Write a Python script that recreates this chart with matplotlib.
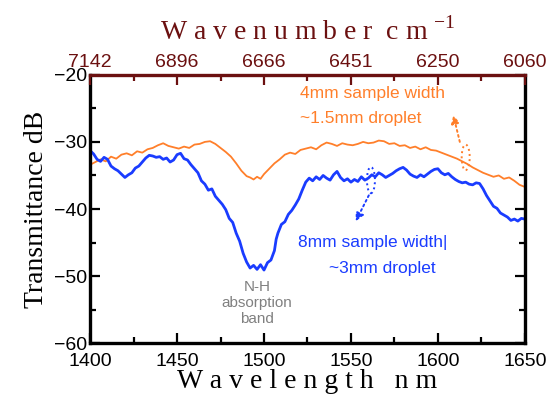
import matplotlib
matplotlib.use('Agg')
import matplotlib.pyplot as plt
from matplotlib.patches import Ellipse
from matplotlib.ticker import MultipleLocator

# data
wl_orange = [1400, 1403, 1406, 1409, 1412, 1415, 1418, 1421, 1424, 1427, 1430, 1433, 1436, 1439,
             1442, 1445, 1448, 1451, 1454, 1457, 1460, 1463, 1466, 1469, 1472, 1475, 1478, 1481,
             1484, 1487, 1490, 1492, 1494, 1496, 1498, 1500, 1503, 1506, 1509, 1512, 1515, 1518,
             1521, 1524, 1527, 1530, 1533, 1536, 1539, 1542, 1545, 1548, 1551, 1554, 1557, 1560,
             1563, 1566, 1569, 1572, 1575, 1578, 1581, 1584, 1587, 1590, 1593, 1596, 1599, 1602,
             1605, 1608, 1611, 1614, 1617, 1620, 1623, 1626, 1629, 1632, 1635, 1638, 1641, 1644,
             1647, 1650]
db_orange = [-33.4, -33.0, -32.6, -32.9, -32.2, -32.5, -31.9, -31.7, -32.0, -31.4, -31.6, -31.1, -30.9, -30.5,
             -30.2, -30.6, -30.8, -31.0, -30.7, -30.9, -30.4, -30.3, -30.0, -29.9, -30.3, -30.9, -31.5, -32.2,
             -33.2, -34.3, -35.1, -35.3, -35.6, -35.2, -35.5, -34.8, -34.0, -33.2, -32.6, -31.9, -31.6, -31.8,
             -31.2, -31.0, -30.8, -31.1, -30.5, -30.1, -30.3, -30.6, -30.2, -30.4, -30.5, -30.3, -30.0, -30.2,
             -30.1, -29.8, -29.9, -30.3, -30.2, -30.6, -30.5, -30.9, -30.7, -31.1, -30.8, -31.2, -31.3, -31.6,
             -31.9, -32.2, -32.5, -32.9, -33.3, -33.8, -34.2, -34.6, -34.9, -35.2, -35.0, -35.5, -35.3, -35.8,
             -36.4, -36.7]

wl_blue = [1400, 1402, 1404, 1406, 1408, 1410, 1412, 1414, 1416, 1418, 1420, 1422, 1424, 1426, 1428,
           1430, 1432, 1434, 1436, 1438, 1440, 1442, 1444, 1446, 1448, 1450, 1452, 1454, 1456, 1458,
           1460, 1462, 1464, 1466, 1468, 1470, 1472, 1474, 1476, 1478, 1480, 1482, 1484, 1486, 1488,
           1490, 1492, 1494, 1496, 1498, 1500, 1502, 1504, 1506, 1507, 1508, 1510, 1512, 1514, 1516,
           1518, 1520, 1522, 1524, 1526, 1528, 1530, 1532, 1534, 1536, 1538, 1540, 1542, 1544, 1546,
           1548, 1550, 1552, 1554, 1556, 1558, 1560, 1562, 1564, 1566, 1568, 1570, 1572, 1574, 1576,
           1578, 1580, 1582, 1584, 1586, 1588, 1590, 1592, 1594, 1596, 1598, 1600, 1602, 1604, 1606,
           1608, 1610, 1612, 1614, 1616, 1618, 1620, 1622, 1624, 1626, 1628, 1630, 1632, 1634, 1636,
           1638, 1640, 1642, 1644, 1646, 1648, 1650]
db_blue = [-31.3, -31.8, -32.6, -32.9, -32.3, -32.6, -33.6, -34.0, -34.3, -34.8, -35.3, -34.9, -34.6, -33.9, -33.6,
           -33.0, -32.4, -32.0, -32.1, -32.3, -32.2, -32.6, -32.4, -33.0, -32.7, -31.9, -31.7, -32.5, -32.7, -33.4,
           -34.0, -34.6, -35.8, -36.3, -37.2, -37.0, -38.1, -38.7, -39.3, -40.1, -41.4, -42.0, -43.6, -44.8, -46.6,
           -47.9, -48.8, -48.4, -49.0, -48.3, -49.1, -48.0, -47.6, -46.2, -44.5, -43.6, -42.3, -41.9, -40.8, -40.2,
           -39.4, -38.5, -37.2, -36.0, -35.4, -35.8, -35.2, -35.6, -35.0, -35.4, -35.7, -34.9, -34.4, -35.3, -35.8,
           -35.5, -36.0, -35.6, -35.9, -35.2, -35.7, -35.4, -34.9, -35.2, -34.6, -34.9, -35.3, -35.0, -34.7, -34.3,
           -34.0, -33.8, -34.2, -34.8, -35.1, -35.3, -34.9, -35.2, -34.8, -34.4, -34.1, -34.0, -34.6, -34.9, -34.7,
           -35.2, -35.6, -35.9, -36.1, -36.0, -36.3, -36.4, -36.1, -36.2, -37.0, -38.0, -38.8, -39.6, -39.9, -40.6,
           -40.9, -41.2, -41.7, -41.5, -41.8, -41.4, -41.5]

top_ticks = [1400, 1450, 1500, 1550, 1600, 1650]
top_labels = ['7142', '6896', '6666', '6451', '6250', '6060']

ORANGE = '#ff7f2a'
BLUE = '#1a3cff'
MAROON = '#6b1010'
GRAY = '#808080'
SANS = 'Liberation Sans'
SERIF = 'Liberation Serif'

fig = plt.figure(figsize=(5.53, 4.0), dpi=100)
ax = fig.add_axes([0.163, 0.142, 0.786, 0.671])

ax.plot(wl_orange, db_orange, color=ORANGE, lw=1.3)
ax.plot(wl_blue, db_blue, color=BLUE, lw=2.0)

ax.set_xlim(1400, 1650)
ax.set_ylim(-60, -20)
ax.xaxis.set_major_locator(MultipleLocator(50))
ax.xaxis.set_minor_locator(MultipleLocator(25))
ax.yaxis.set_major_locator(MultipleLocator(10))
ax.yaxis.set_minor_locator(MultipleLocator(5))
ax.tick_params(which='both', direction='in', right=True, width=1.6, colors='black')
ax.tick_params(which='major', length=7, labelsize=14)
ax.tick_params(axis='x', which='major', pad=7)
ax.tick_params(axis='y', which='major', pad=2)
ax.tick_params(which='minor', length=4)
for lab in ax.get_xticklabels() + ax.get_yticklabels():
    lab.set_fontfamily(SANS)
for s in ['left', 'right', 'bottom']:
    ax.spines[s].set_linewidth(2.4)
ax.spines['top'].set_visible(False)

ax.set_xlabel('W a v e l e n g t h   n m', fontfamily=SERIF, fontsize=20, labelpad=-1)
ax.set_ylabel('Transmittance dB', fontfamily=SERIF, fontsize=20, labelpad=4)

# top axis in wavenumber
ax2 = ax.twiny()
ax2.set_xlim(ax.get_xlim())
ax2.set_xticks(top_ticks)
ax2.set_xticklabels(top_labels, fontfamily=SANS, fontsize=14, color=MAROON)
ax2.xaxis.set_minor_locator(MultipleLocator(25))
ax2.tick_params(which='both', direction='in', width=1.6, color=MAROON, pad=3)
ax2.tick_params(which='major', length=7)
ax2.tick_params(which='minor', length=4)
for s in ['left', 'right', 'bottom']:
    ax2.spines[s].set_visible(False)
ax2.spines['top'].set_linewidth(2.4)
ax2.spines['top'].set_color(MAROON)
ax2.set_xlabel(r'W a v e n u m b e r  c m $^{\mathregular{-1}}$', fontfamily=SERIF,
               fontsize=20, color=MAROON, labelpad=10)

# annotations
ax.text(1520.5, -22.8, '4mm sample width', color=ORANGE, fontsize=12.5, fontfamily=SANS, va='center')
ax.text(1520.5, -26.5, '~1.5mm droplet', color=ORANGE, fontsize=12.5, fontfamily=SANS, va='center')
ax.text(1519.5, -45.0, '8mm sample width|', color=BLUE, fontsize=12.5, fontfamily=SANS, va='center')
ax.text(1537.5, -48.8, '~3mm droplet', color=BLUE, fontsize=12.5, fontfamily=SANS, va='center')
ax.text(1496, -54.0, 'N-H\nabsorption\nband', color=GRAY, fontsize=11, fontfamily=SANS,
        ha='center', va='center', linespacing=1.15)

ax.add_patch(Ellipse((1616, -32.3), 4.6, 3.8, fill=False, ls=':', lw=1.4, ec=ORANGE))
ax.annotate('', xy=(1608.5, -25.6), xytext=(1613, -30.4),
            arrowprops=dict(arrowstyle='-|>', ls=':', lw=1.4, color=ORANGE, mutation_scale=12))
ax.add_patch(Ellipse((1561.5, -35.7), 4.6, 3.9, fill=False, ls=':', lw=1.4, ec=BLUE))
ax.annotate('', xy=(1552, -42.2), xytext=(1561, -37.6),
            arrowprops=dict(arrowstyle='-|>', ls=':', lw=1.4, color=BLUE, mutation_scale=12))

fig.savefig('out.png', dpi=100)
